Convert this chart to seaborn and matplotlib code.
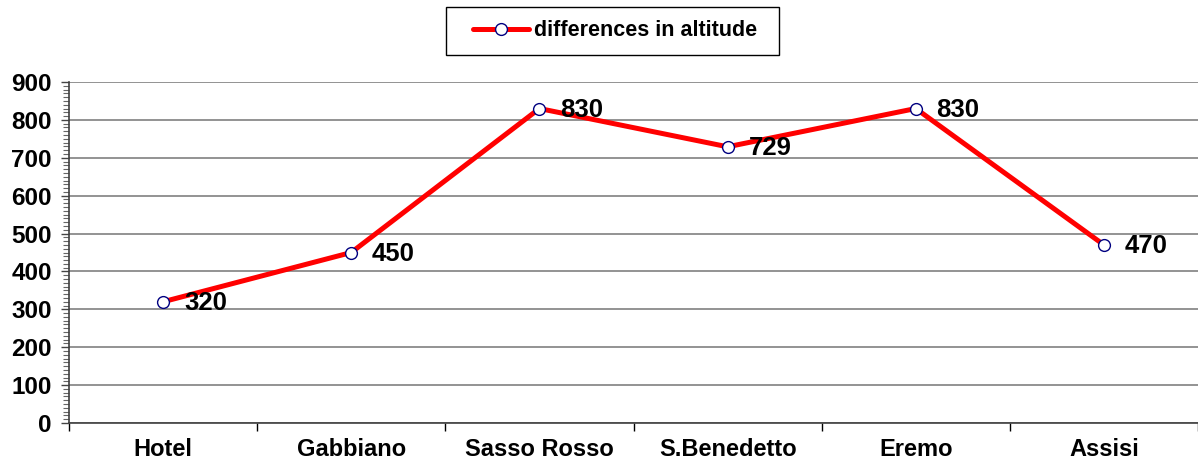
import matplotlib
matplotlib.use("Agg")
import matplotlib.pyplot as plt
import seaborn as sns
import pandas as pd
import numpy as np
from matplotlib.ticker import MultipleLocator, FixedLocator
from matplotlib.patches import Rectangle

categories = ["Hotel", "Gabbiano", "Sasso Rosso", "S.Benedetto", "Eremo", "Assisi"]
altitudes = [320, 450, 830, 729, 830, 470]
series_name = "differences in altitude"
y_ticks = [0, 100, 200, 300, 400, 500, 600, 700, 800, 900]

sns.set_theme(style="white")
plt.rcParams['font.family'] = ['Liberation Sans', 'DejaVu Sans']
plt.rcParams['font.weight'] = 'bold'
plt.rcParams['text.color'] = 'black'
plt.rcParams['xtick.color'] = 'black'
plt.rcParams['ytick.color'] = 'black'

df = pd.DataFrame({"place": categories, "alt": altitudes})

W, H = 1198, 463
fig = plt.figure(figsize=(W / 100, H / 100), dpi=100)
ax = fig.add_axes([69 / W, 40 / H, 1 - 69 / W, 341 / H])

sns.lineplot(data=df, x="place", y="alt", sort=False, ax=ax, color="red",
             linewidth=3.6, marker="o", markersize=8.5, markerfacecolor="white",
             markeredgecolor="#000080", markeredgewidth=1.0, label=series_name)

ax.set_xlim(-0.5, len(categories) - 0.5)
ax.set_ylim(0, 900)
ax.set_xlabel("")
ax.set_ylabel("")

ax.set_yticks(y_ticks)
ax.set_yticklabels([str(v) for v in y_ticks], fontsize=17.5, fontweight='bold', color='black')
ax.yaxis.set_minor_locator(MultipleLocator(10))
ax.tick_params(axis='y', which='major', direction='out', length=6, width=1, color='#444444',
               labelcolor='black', left=True, pad=6.5)
ax.tick_params(axis='y', which='minor', direction='out', length=4, width=0.8, color='#666666', left=True)

ax.set_xticks(range(len(categories)))
ax.set_xticklabels(categories, fontsize=17, fontweight='bold', color='black')
ax.xaxis.set_minor_locator(FixedLocator(np.arange(-0.5, len(categories), 1.0)))
ax.tick_params(axis='x', which='major', length=0, pad=11, labelcolor='black')
ax.tick_params(axis='x', which='minor', direction='out', length=6, width=1, color='black', bottom=True)

ax.grid(axis='y', which='major', color='#808080', linewidth=1.2)
ax.grid(axis='x', visible=False)
ax.set_axisbelow(True)

for s in ['top', 'right']:
    ax.spines[s].set_visible(False)
for s in ['left', 'bottom']:
    ax.spines[s].set_visible(True)
    ax.spines[s].set_color('#404040')
    ax.spines[s].set_linewidth(1.2)

for i, v in enumerate(altitudes):
    ax.annotate(str(v), (i, v), xytext=(15, -1), textcoords='offset points',
                ha='left', va='center', fontsize=18.5, fontweight='bold', color='black')

ax.get_legend().remove()
handles, labels = ax.get_legend_handles_labels()
leg = fig.legend(handles, labels, loc='center', bbox_to_anchor=(615 / W, 1 - 31 / H),
                 frameon=False, fontsize=15.5,
                 handlelength=2.6, handletextpad=0.2, borderpad=0.2, borderaxespad=0)
for t in leg.get_texts():
    t.set_fontweight('bold')
    t.set_color('black')

fig.patches.append(Rectangle((446 / W, 1 - 55 / H), (779 - 446) / W, 48 / H,
                             transform=fig.transFigure, fill=False,
                             edgecolor='black', linewidth=1.0))

fig.savefig("out.png", dpi=100, facecolor='white')
